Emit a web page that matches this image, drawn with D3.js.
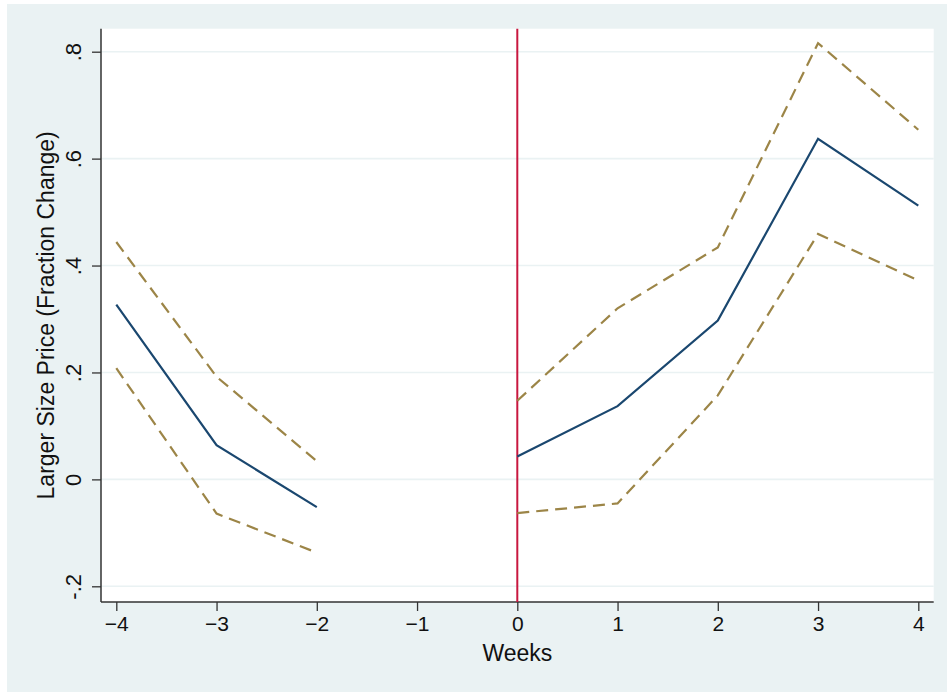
<!DOCTYPE html>
<html>
<head>
<meta charset="utf-8">
<script src="https://cdn.jsdelivr.net/npm/d3@7"></script>
<style>
  body { margin: 0; background: #fff; }
  text { font-family: "Liberation Sans", Arial, Helvetica, sans-serif; fill: #111; }
</style>
</head>
<body>
<svg id="chart" width="947" height="693"></svg>
<script>
// event-study estimates (week -1 is the omitted base)
var weeks    = [-4, -3, -2, -1, 0, 1, 2, 3, 4];
var estimate = [0.327, 0.064, -0.052, null, 0.043, 0.137, 0.297, 0.637, 0.512];
var upperCI  = [0.444, 0.192, 0.034, null, 0.147, 0.320, 0.434, 0.816, 0.654];
var lowerCI  = [0.208, -0.064, -0.137, null, -0.063, -0.045, 0.157, 0.459, 0.372];

var xTicks = [-4, -3, -2, -1, 0, 1, 2, 3, 4];
var yTicks = [-0.2, 0, 0.2, 0.4, 0.6, 0.8];
var yTickLabels = ["-.2", "0", ".2", ".4", ".6", ".8"];

var svg = d3.select('#chart');

// outer graph region
svg.append('rect')
  .attr('x', 7).attr('y', 4)
  .attr('width', 940).attr('height', 688)
  .attr('fill', '#eaf2f3');

var plot = { left: 101, right: 933.7, top: 28.7, bottom: 602 };

svg.append('rect')
  .attr('x', plot.left).attr('y', plot.top)
  .attr('width', plot.right - plot.left).attr('height', plot.bottom - plot.top)
  .attr('fill', '#fff');

var x = d3.scaleLinear().domain([-4, 4]).range([116.3, 918.3]);
var y = d3.scaleLinear().domain([-0.2, 0.8]).range([586.3, 51.7]);

// gridlines
svg.append('g').selectAll('line')
  .data(yTicks)
  .enter().append('line')
  .attr('x1', plot.left).attr('x2', plot.right)
  .attr('y1', function(d) { return y(d); })
  .attr('y2', function(d) { return y(d); })
  .attr('stroke', '#eaf2f3')
  .attr('stroke-width', 1.6);

// x axis
var xAxis = d3.axisBottom(x)
  .tickValues(xTicks)
  .tickSize(9)
  .tickPadding(5)
  .tickFormat(function(d) { return d < 0 ? '\u2212' + Math.abs(d) : d; });

var gx = svg.append('g')
  .attr('transform', 'translate(0,' + plot.bottom + ')')
  .call(xAxis);
gx.select('.domain').remove();
gx.append('line')
  .attr('x1', plot.left).attr('x2', plot.right)
  .attr('stroke', '#333').attr('stroke-width', 1.5);
gx.selectAll('.tick line').attr('stroke', '#333').attr('stroke-width', 1.3);
gx.selectAll('.tick text')
  .attr('font-size', 21)
  .attr('fill', '#111');

// y axis
var yAxis = d3.axisLeft(y)
  .tickValues(yTicks)
  .tickSize(9)
  .tickFormat(function(d, i) { return yTickLabels[i]; });

var gy = svg.append('g')
  .attr('transform', 'translate(' + plot.left + ',0)')
  .call(yAxis);
gy.select('.domain').remove();
gy.append('line')
  .attr('y1', plot.top).attr('y2', plot.bottom)
  .attr('stroke', '#333').attr('stroke-width', 1.5);
gy.selectAll('.tick line').attr('stroke', '#333').attr('stroke-width', 1.3);
gy.selectAll('.tick text')
  .attr('font-size', 22)
  .attr('fill', '#111')
  .attr('x', null).attr('dy', null)
  .attr('text-anchor', 'middle')
  .attr('transform', 'translate(-20,0) rotate(-90)');

// axis titles
svg.append('text')
  .attr('x', (plot.left + plot.right) / 2)
  .attr('y', 661)
  .attr('text-anchor', 'middle')
  .attr('font-size', 23)
  .text('Weeks');

svg.append('text')
  .attr('transform', 'translate(54,' + (plot.top + plot.bottom) / 2 + ') rotate(-90)')
  .attr('text-anchor', 'middle')
  .attr('font-size', 23)
  .text('Larger Size Price (Fraction Change)');

// event line at week 0
svg.append('line')
  .attr('x1', x(0)).attr('x2', x(0))
  .attr('y1', plot.top).attr('y2', plot.bottom)
  .attr('stroke', '#c8173f')
  .attr('stroke-width', 2);

function lineFor(values) {
  return d3.line()
    .defined(function(d, i) { return values[i] !== null; })
    .x(function(d, i) { return x(weeks[i]); })
    .y(function(d, i) { return y(values[i]); })(weeks);
}

[upperCI, lowerCI].forEach(function(s) {
  svg.append('path')
    .attr('d', lineFor(s))
    .attr('fill', 'none')
    .attr('stroke', '#9c8547')
    .attr('stroke-width', 2.2)
    .attr('stroke-dasharray', '12,7');
});

svg.append('path')
  .attr('d', lineFor(estimate))
  .attr('fill', 'none')
  .attr('stroke', '#1a476f')
  .attr('stroke-width', 2.2);
</script>
</body>
</html>
